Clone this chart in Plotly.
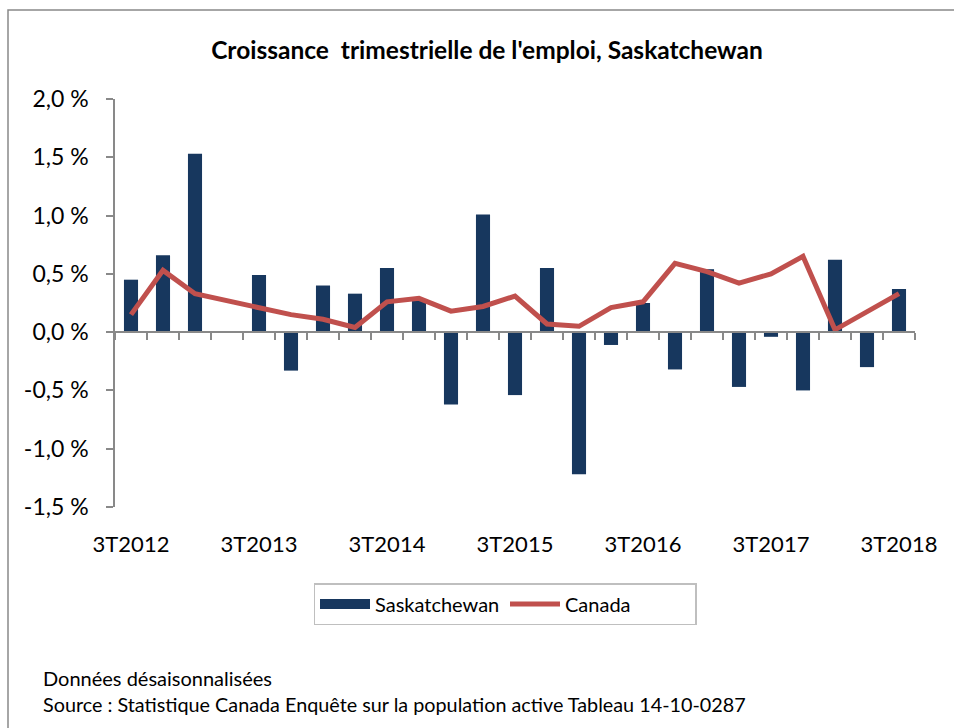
import plotly.graph_objects as go

quarters = ["3T2012", "4T2012",
            "1T2013", "2T2013", "3T2013", "4T2013",
            "1T2014", "2T2014", "3T2014", "4T2014",
            "1T2015", "2T2015", "3T2015", "4T2015",
            "1T2016", "2T2016", "3T2016", "4T2016",
            "1T2017", "2T2017", "3T2017", "4T2017",
            "1T2018", "2T2018", "3T2018"]
saskatchewan = [0.45, 0.66, 1.53, 0.0, 0.49, -0.33, 0.40, 0.33, 0.55, 0.28,
                -0.62, 1.01, -0.54, 0.55, -1.22, -0.11, 0.25, -0.32, 0.54, -0.47,
                -0.04, -0.50, 0.62, -0.30, 0.37]
canada = [0.15, 0.53, 0.33, 0.27, 0.22, 0.15, 0.11, 0.04, 0.26, 0.29,
          0.18, 0.22, 0.31, 0.07, 0.05, 0.21, 0.26, 0.59, 0.52, 0.42,
          0.50, 0.65, 0.02, 0.18, 0.33]
x_tick_labels = quarters[::4]
y_tick_values = [2.0, 1.5, 1.0, 0.5, 0.0, -0.5, -1.0, -1.5]
y_tick_labels = ["2,0 %", "1,5 %", "1,0 %", "0,5 %", "0,0 %", "-0,5 %", "-1,0 %", "-1,5 %"]

NAVY = "#17375E"
RED = "#C0504D"
GREY = "#898989"
FONT = "Lato"

W, H = 954, 728
L, R, T, B = 115, 39, 99, 221
PW, PH = W - L - R, H - T - B

def px(x):
    return (x - L) / PW

def py(y):
    return (H - B - y) / PH

fig = go.Figure()
fig.add_trace(go.Bar(x=quarters, y=saskatchewan, name="Saskatchewan",
                     marker=dict(color=NAVY, line=dict(width=0)), width=0.44,
                     showlegend=False, legendgroup="sk"))
# legend entry for the bars drawn as a wide swatch
fig.add_trace(go.Scatter(x=quarters, y=[None] * len(quarters), name="Saskatchewan",
                         mode="lines", line=dict(color=NAVY, width=13),
                         legendgroup="sk", hoverinfo="skip"))
fig.add_trace(go.Scatter(x=quarters, y=canada, name="Canada", mode="lines",
                         line=dict(color=RED, width=5)))
fig.add_trace(go.Scatter(x=quarters, y=[None] * len(quarters), xaxis="x2",
                         showlegend=False, hoverinfo="skip", mode="lines"))

ymin, ymax = -1.5, 2.0
fig.update_layout(
    width=W, height=H,
    margin=dict(l=L, r=R, t=T, b=B),
    paper_bgcolor="white", plot_bgcolor="white",
    font=dict(family=FONT, color="black"),
    title=dict(text="<b>Croissance  trimestrielle de l'emploi, Saskatchewan</b>",
               x=487 / W, xref="container", xanchor="center",
               y=1 - 50 / H, yref="container", yanchor="middle",
               font=dict(size=24.5, family=FONT)),
    bargap=0.56,
    xaxis=dict(type="category", range=[-0.5, len(quarters) - 0.5],
               tickmode="array", tickvals=x_tick_labels, ticktext=x_tick_labels,
               showline=False, ticks="", showgrid=False, zeroline=False,
               tickfont=dict(size=22, family=FONT), ticklabelstandoff=22),
    xaxis2=dict(type="category", overlaying="x", anchor="free",
                position=(0 - ymin) / (ymax - ymin),
                range=[-0.5, len(quarters) - 0.5],
                showticklabels=False, showline=True, linecolor=GREY, linewidth=2,
                ticks="outside", tickson="boundaries", ticklen=7, tickwidth=1.5,
                tickcolor=GREY, showgrid=False, zeroline=False, dtick=1),
    yaxis=dict(range=[ymin, ymax], tickmode="array", tickvals=y_tick_values,
               ticktext=y_tick_labels, showline=True, linecolor=GREY, linewidth=1.5,
               ticks="outside", ticklen=7, tickwidth=1.5, tickcolor=GREY,
               showgrid=False, zeroline=False, tickfont=dict(size=23, family=FONT),
               ticklabelstandoff=13),
    legend=dict(orientation="h", x=px(505), xanchor="center", y=py(583), yanchor="top",
                bordercolor="#BFBFBF", borderwidth=1.5, bgcolor="white",
                font=dict(size=20, family=FONT), itemwidth=50, entrywidth=125,
                traceorder="normal"),
    shapes=[dict(type="rect", xref="paper", yref="paper",
                 x0=px(8), x1=px(980), y0=py(760), y1=py(10),
                 line=dict(color=GREY, width=1.5), fillcolor="rgba(0,0,0,0)", layer="below")],
    annotations=[
        dict(text="Données désaisonnalisées", xref="paper", yref="paper",
             x=px(41), y=py(678), xanchor="left", yanchor="middle", showarrow=False,
             font=dict(size=20, family=FONT)),
        dict(text="Source : Statistique Canada Enquête sur la population active Tableau 14-10-0287",
             xref="paper", yref="paper", x=px(41), y=py(704), xanchor="left",
             yanchor="middle", showarrow=False, font=dict(size=19.8, family=FONT)),
    ],
)

fig.write_html("out.html", config={"displayModeBar": False},
               post_script="document.body.style.margin='0';")
